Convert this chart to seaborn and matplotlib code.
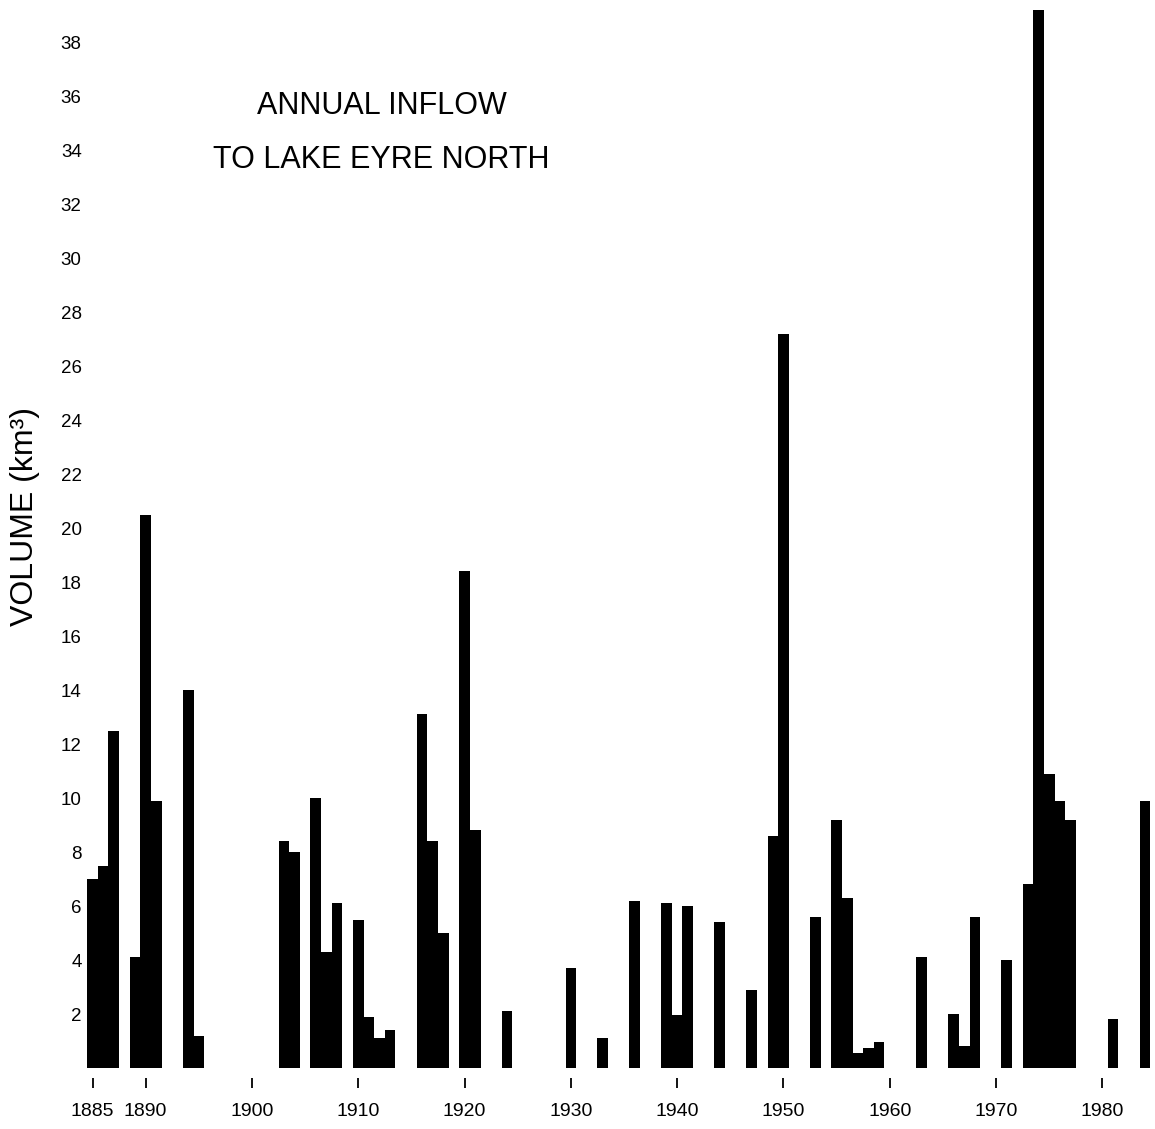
import matplotlib
matplotlib.use("Agg")
import matplotlib.pyplot as plt
import seaborn as sns
import pandas as pd

# Years with non-zero inflow and their annual inflow volumes (km^3)
years = [1885, 1886, 1887, 1889, 1890, 1891, 1894, 1895,
         1903, 1904, 1906, 1907, 1908, 1910, 1911, 1912, 1913,
         1916, 1917, 1918, 1920, 1921, 1924, 1930, 1933, 1936,
         1939, 1940, 1941, 1944, 1947, 1949, 1950, 1953, 1955,
         1956, 1957, 1958, 1959, 1963, 1966, 1967, 1968, 1971,
         1973, 1974, 1975, 1976, 1977, 1981, 1984]
volumes = [7.0, 7.5, 12.5, 4.1, 20.5, 9.9, 14.0, 1.2,
           8.4, 8.0, 10.0, 4.3, 6.1, 5.5, 1.9, 1.1, 1.4,
           13.1, 8.4, 5.0, 18.4, 8.8, 2.1, 3.7, 1.1, 6.2,
           6.1, 1.95, 6.0, 5.4, 2.9, 8.6, 27.2, 5.6, 9.2,
           6.3, 0.55, 0.75, 0.95, 4.1, 2.0, 0.8, 5.6, 4.0,
           6.8, 39.2, 10.9, 9.9, 9.2, 1.8, 9.9]

xtick_years = [1885, 1890, 1900, 1910, 1920, 1930, 1940, 1950, 1960, 1970, 1980]
ytick_values = list(range(2, 40, 2))
title_lines = ["ANNUAL INFLOW", "TO LAKE EYRE NORTH"]
y_label = "VOLUME (km³)"

df = pd.DataFrame({"year": years, "volume": volumes})

sns.set_theme(style="white")
plt.rcParams["font.family"] = ["Liberation Sans", "DejaVu Sans"]

W, H = 1155, 1129
fig = plt.figure(figsize=(W / 100, H / 100), dpi=100)
left_px, bottom_px, top_px = 87.2, 61, 0
ax = fig.add_axes([left_px / W, bottom_px / H, (W - left_px) / W,
                   (H - bottom_px - top_px) / H])

sns.barplot(data=df, x="year", y="volume", native_scale=True, width=1.0,
            color="black", saturation=1, linewidth=0, ax=ax)

ax.set_xlim(1884.5, 1984.95)
ax.set_ylim(0, 39.56)

for s in ax.spines.values():
    s.set_visible(False)
ax.spines["bottom"].set_position(("outward", 7))

ax.set_xticks(xtick_years)
ax.set_xticklabels([str(y) for y in xtick_years])
ax.tick_params(axis="x", direction="out", length=7, width=1.3, color="black",
               pad=11, labelsize=14, labelcolor="black", bottom=True)

ax.set_yticks(ytick_values)
ax.set_yticklabels([str(v) for v in ytick_values])
ax.tick_params(axis="y", length=0, pad=4, labelsize=13.5, labelcolor="black")

ax.set_xlabel("")
ax.set_ylabel("")
fig.text(25 / W, 1 - 516 / H, y_label, rotation=90, ha="center", va="center",
         fontsize=23, color="black")

ax.text(1912.2, 35.65, title_lines[0], ha="center", va="center", fontsize=22,
        color="black")
ax.text(1912.2, 33.65, title_lines[1], ha="center", va="center", fontsize=22,
        color="black")

fig.savefig("out.png", dpi=100, facecolor="white")
